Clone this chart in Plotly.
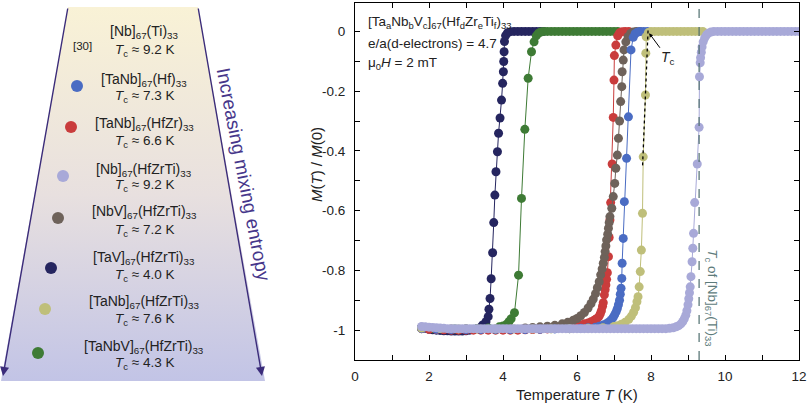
import plotly.graph_objects as go

W, H = 807, 405

# ---------------- data (T in K, M(T)/M(0)) ----------------
TaV_HfZrTi = [(1.8,-0.99),(1.9,-0.994),(2.0,-0.997),(2.1,-0.999),(2.2,-1.0),(2.3,-1.001),(2.4,-1.002),(2.5,-1.002),
    (2.6,-1.003),(2.7,-1.003),(2.8,-1.003),(2.9,-1.003),(3.0,-1.002),(3.1,-1.0),(3.2,-0.998),(3.3,-0.995),(3.4,-0.99),
    (3.45,-0.983),(3.54,-0.972),(3.6,-0.955),(3.62,-0.93),(3.65,-0.894),(3.68,-0.828),(3.72,-0.741),(3.75,-0.64),
    (3.78,-0.548),(3.81,-0.47),(3.85,-0.403),(3.88,-0.341),(3.92,-0.29),(3.96,-0.23),(3.99,-0.174),(4.01,-0.135),
    (4.02,-0.101),(4.03,-0.068),(4.04,-0.034),(4.07,-0.014),(4.12,-0.005),(4.2,-0.001),(4.3,0),(4.4,0),(4.5,0),
    (4.6,0),(4.7,0),(4.8,0),(4.9,0),(5.0,0),(5.1,0)]

TaNbV_HfZrTi = [(1.8,-0.993),(2.1,-0.995),(2.4,-0.996),(2.7,-0.996),(3.0,-0.996),(3.3,-0.995),(3.6,-0.993),
    (3.9,-0.989),(4.0,-0.986),(4.1,-0.98),(4.16,-0.972),(4.22,-0.962),(4.31,-0.942),(4.42,-0.816),(4.5,-0.559),
    (4.59,-0.328),(4.68,-0.157),(4.77,-0.068),(4.84,-0.035),(4.9,-0.015),(4.96,-0.006),(5.02,-0.002),
    (5.1,0),(5.2,0),(5.3,0),(5.4,0),(5.5,0),(5.6,0),(5.7,0),(5.8,0),(5.9,0),(6.0,0),(6.1,0),(6.2,0),(6.3,0),
    (6.4,0),(6.5,0),(6.6,0),(6.7,0),(6.8,0),(6.9,0),(7.0,0),(7.1,0)]

TaNb_HfZr = [(1.8,-0.995),(2.0,-0.997),(2.2,-0.998),(2.4,-0.999),(2.6,-1.0),(2.8,-1.0),(3.0,-1.0),(3.2,-1.0),
    (3.4,-1.0),(3.6,-1.0),(3.8,-1.0),(4.0,-1.0),(4.2,-1.0),(4.4,-1.0),(4.6,-0.999),(4.8,-0.998),(5.0,-0.997),
    (5.2,-0.996),(5.4,-0.994),(5.6,-0.992),(5.8,-0.989),(6.0,-0.985),(6.1,-0.982),(6.2,-0.979),(6.3,-0.976),
    (6.38,-0.972),(6.45,-0.968),(6.5,-0.964),(6.55,-0.96),(6.6,-0.953),(6.63,-0.945),(6.66,-0.935),(6.69,-0.92),
    (6.71,-0.908),(6.74,-0.882),(6.76,-0.865),(6.78,-0.849),(6.8,-0.83),(6.82,-0.808),(6.85,-0.754),(6.87,-0.69),
    (6.89,-0.631),(6.91,-0.573),(6.95,-0.444),(6.98,-0.288),(7.0,-0.163),(7.01,-0.081),(7.05,-0.046),(7.1,-0.015),
    (7.15,-0.005),(7.22,-0.001),(7.3,0),(7.4,0)]

NbV_HfZrTi = [(1.8,-0.993),(2.2,-0.995),(2.6,-0.996),(3.0,-0.996),(3.4,-0.996),(3.8,-0.996),(4.2,-0.995),
    (4.6,-0.993),(4.8,-0.991),(5.0,-0.989),(5.2,-0.987),(5.4,-0.984),(5.6,-0.979),(5.75,-0.974),(5.9,-0.967),
    (6.0,-0.961),(6.1,-0.952),(6.2,-0.941),(6.3,-0.926),(6.38,-0.911),(6.44,-0.896),(6.5,-0.878),(6.55,-0.858),
    (6.6,-0.838),(6.64,-0.815),(6.68,-0.795),(6.71,-0.776),(6.74,-0.757),(6.76,-0.737),(6.78,-0.718),(6.8,-0.698),
    (6.83,-0.679),(6.85,-0.659),(6.87,-0.64),(6.89,-0.62),(6.94,-0.592),(6.98,-0.553),(7.02,-0.509),(7.05,-0.458),
    (7.09,-0.414),(7.12,-0.358),(7.15,-0.3),(7.18,-0.235),(7.21,-0.185),(7.22,-0.135),(7.25,-0.096),(7.27,-0.062),
    (7.32,-0.035),(7.38,-0.018),(7.45,-0.007),(7.52,-0.002),(7.6,0),(7.7,0)]

TaNb_Hf = [(1.8,-0.995),(2.2,-0.997),(2.6,-0.998),(3.0,-0.998),(3.4,-0.998),(3.8,-0.998),(4.2,-0.998),
    (4.6,-0.998),(5.0,-0.997),(5.4,-0.996),(5.8,-0.995),(6.1,-0.994),(6.3,-0.992),(6.5,-0.99),(6.6,-0.987),
    (6.7,-0.983),(6.8,-0.978),(6.87,-0.972),(6.93,-0.965),(6.98,-0.957),(7.02,-0.948),(7.06,-0.938),(7.09,-0.928),
    (7.12,-0.915),(7.15,-0.9),(7.17,-0.88),(7.19,-0.86),(7.21,-0.827),(7.22,-0.776),(7.25,-0.693),(7.28,-0.57),
    (7.34,-0.425),(7.39,-0.286),(7.46,-0.062),(7.52,-0.02),(7.57,-0.008),(7.63,-0.003),(7.7,0),(7.8,0),(7.9,0)]

TaNb_HfZrTi = [(1.8,-0.993),(2.3,-0.995),(2.8,-0.996),(3.3,-0.996),(3.8,-0.996),(4.3,-0.996),(4.8,-0.996),
    (5.3,-0.996),(5.8,-0.995),(6.3,-0.994),(6.7,-0.992),(7.0,-0.988),(7.1,-0.985),(7.2,-0.98),(7.3,-0.974),
    (7.4,-0.964),(7.47,-0.953),(7.53,-0.94),(7.58,-0.925),(7.62,-0.905),(7.65,-0.888),(7.68,-0.855),(7.71,-0.804),
    (7.74,-0.732),(7.77,-0.609),(7.79,-0.42),(7.85,-0.213),(7.86,-0.073),(7.87,-0.018),(7.93,-0.004),
    (8.0,0),(8.1,0),(8.2,0),(8.3,0),(8.4,0),(8.5,0),(8.6,0),(8.7,0),(8.8,0),(8.9,0),(9.0,0),(9.1,0),(9.2,0),
    (9.3,0),(9.4,0)]

Nb_HfZrTi = [(1.8,-0.988),(1.9,-0.989),(2.0,-0.99),(2.1,-0.991),(2.2,-0.992),(2.3,-0.993),(2.4,-0.994),
    (2.5,-0.995),(2.6,-0.995),(2.7,-0.995),(2.8,-0.995),(2.9,-0.995),(3.0,-0.995),(3.1,-0.995),(3.2,-0.995),
    (3.3,-0.995),(3.4,-0.995),(3.5,-0.995),(3.6,-0.995),(3.7,-0.995),(3.8,-0.995),(3.9,-0.995),(4.0,-0.995),
    (4.1,-0.995),(4.2,-0.995),(4.3,-0.995),(4.4,-0.995),(4.5,-0.995),(4.6,-0.995),(4.7,-0.995),(4.8,-0.995),
    (4.9,-0.995),(5.0,-0.995),(5.1,-0.995),(5.2,-0.995),(5.3,-0.995),(5.4,-0.995),(5.5,-0.995),(5.6,-0.995),
    (5.7,-0.995),(5.8,-0.995),(5.9,-0.995),(6.0,-0.995),(6.1,-0.995),(6.2,-0.995),(6.3,-0.995),(6.4,-0.995),
    (6.5,-0.995),(6.6,-0.995),(6.7,-0.995),(6.8,-0.995),(6.9,-0.995),(7.0,-0.995),(7.1,-0.995),(7.2,-0.995),
    (7.3,-0.995),(7.4,-0.995),(7.5,-0.995),(7.6,-0.995),(7.7,-0.995),(7.8,-0.995),(7.9,-0.995),(8.0,-0.995),
    (8.1,-0.995),(8.2,-0.995),(8.3,-0.995),(8.4,-0.995),
    (8.5,-0.994),(8.6,-0.992),(8.68,-0.989),(8.75,-0.985),(8.81,-0.979),(8.86,-0.971),(8.9,-0.962),(8.94,-0.95),
    (8.97,-0.935),(9.0,-0.915),(9.02,-0.895),(9.04,-0.875),(9.06,-0.855),(9.08,-0.821),(9.11,-0.771),(9.13,-0.726),
    (9.15,-0.676),(9.18,-0.573),(9.25,-0.444),(9.3,-0.321),(9.31,-0.152),(9.33,-0.105),(9.34,-0.088),(9.36,-0.07),
    (9.38,-0.052),(9.41,-0.035),(9.45,-0.022),(9.5,-0.012),(9.55,-0.006),(9.62,-0.002),
    (9.7,0),(9.8,0),(9.9,0),(10.0,0),(10.1,0),(10.2,0),(10.3,0),(10.4,0),(10.5,0),(10.6,0),(10.7,0),(10.8,0),
    (10.9,0),(11.0,0),(11.1,0),(11.2,0),(11.3,0),(11.4,0),(11.5,0),(11.6,0),(11.7,0),(11.8,0),(11.9,0),(12.0,0)]

# drawing order (later on top) and colours
series_names = ["TaV", "TaNbV", "TaNb_HfZr", "NbV", "TaNb_Hf", "TaNb_HfZrTi", "Nb_HfZrTi"]
series_data = [TaV_HfZrTi, TaNbV_HfZrTi, TaNb_HfZr, NbV_HfZrTi, TaNb_Hf, TaNb_HfZrTi, Nb_HfZrTi]
series_colors = ["#25255f", "#3e7b35", "#c93c3c", "#6e625a", "#4a6cc3", "#bfbf7a", "#a8a9d8"]

# Tc guide line (tangent) and reference Tc of [Nb]67(Ti)33
tc_line_T = [7.92, 7.77]
tc_line_M = [0.003, -0.458]
tc_NbTi = 9.3

# legend panel
legend_formula = ["[Nb]<sub>67</sub>(Ti)<sub>33</sub>", "[TaNb]<sub>67</sub>(Hf)<sub>33</sub>",
                  "[TaNb]<sub>67</sub>(HfZr)<sub>33</sub>", "[Nb]<sub>67</sub>(HfZrTi)<sub>33</sub>",
                  "[NbV]<sub>67</sub>(HfZrTi)<sub>33</sub>", "[TaV]<sub>67</sub>(HfZrTi)<sub>33</sub>",
                  "[TaNb]<sub>67</sub>(HfZrTi)<sub>33</sub>", "[TaNbV]<sub>67</sub>(HfZrTi)<sub>33</sub>"]
legend_tc = [9.2, 7.3, 6.6, 9.2, 7.2, 4.0, 7.6, 4.3]
legend_colors = [None, "#4a6cc3", "#c93c3c", "#a8a9d8", "#6e625a", "#25255f", "#bfbf7a", "#3e7b35"]

x_ticks = [0, 2, 4, 6, 8, 10, 12]
y_ticks = [-1, -0.8, -0.6, -0.4, -0.2, 0]
y_ticktext = ["-1", "-0.8", "-0.6", "-0.4", "-0.2", "0"]

# ---------------- layout constants (pixels) ----------------
leg_line1_y = [31.7, 80, 124, 170, 212, 258, 302, 347]
leg_line2_y = [50, 96, 141, 185, 230, 275, 319, 363]
leg_mark_x = [None, 77, 71, 63, 58, 51, 45, 38]
leg_mark_y = [None, 86, 127, 176, 218, 268, 309, 353]
leg_text_x = 144

FONT = "Liberation Sans, Arial, sans-serif"
TXT = "#222222"

def px(x):
    return x / W

def py(y):
    return 1 - y / H

fig = go.Figure()

# left panel trapezoid
fig.add_trace(go.Scatter(x=[68, 198, 265, 1, 68], y=[7, 7, 381, 381, 7], mode="lines",
                         fill="toself", line=dict(width=0),
                         fillgradient=dict(type="vertical",
                                           colorscale=[[0, "#c2c4e6"], [0.5, "#e8e0df"], [1, "#f9f2d6"]]),
                         xaxis="x2", yaxis="y2", hoverinfo="skip"))

mx = [v for v in leg_mark_x if v is not None]
my = [v for v in leg_mark_y if v is not None]
mc = [c for c in legend_colors if c is not None]
fig.add_trace(go.Scatter(x=mx, y=my, mode="markers", marker=dict(size=12, color=mc),
                         xaxis="x2", yaxis="y2", hoverinfo="skip"))

# main data
for name, data, col in zip(series_names, series_data, series_colors):
    T = [p[0] for p in data]
    M = [p[1] for p in data]
    fig.add_trace(go.Scatter(x=T, y=M, mode="lines+markers", name=name,
                             line=dict(color=col, width=1),
                             marker=dict(size=9, color=col)))

fig.add_trace(go.Scatter(x=tc_line_T, y=tc_line_M, mode="lines",
                         line=dict(color="black", width=1.3, dash="dot"), hoverinfo="skip"))

fig.add_shape(type="line", x0=tc_NbTi, x1=tc_NbTi, y0=0, y1=1, xref="x", yref="y domain",
              line=dict(color="#4f6e6e", width=1.2, dash="dash"))

C = dict(xanchor="center", yanchor="middle")
ann = []
for i in range(8):
    ann.append(dict(x=leg_text_x, y=leg_line1_y[i], xref="x2", yref="y2", text=legend_formula[i],
                    showarrow=False, font=dict(size=14, color=TXT), **C))
    ann.append(dict(x=leg_text_x, y=leg_line2_y[i], xref="x2", yref="y2",
                    text="<i>T</i><sub>c</sub> ≈ %.1f K" % legend_tc[i],
                    showarrow=False, font=dict(size=13.5, color=TXT), **C))
ann.append(dict(x=82, y=46, xref="x2", yref="y2", text="[30]", showarrow=False,
                font=dict(size=11.5, color=TXT), **C))
# arrows along trapezoid sides
for (x0, y0, x1, y1) in [(68, 7, 3, 376), (198, 7, 262, 376)]:
    ann.append(dict(x=x1, y=y1, ax=x0, ay=y0, xref="x2", yref="y2", axref="x2", ayref="y2",
                    text="", showarrow=True, arrowhead=2, arrowsize=1.3, arrowwidth=1.4,
                    arrowcolor="#3b2c7a"))
ann.append(dict(x=244, y=174, xref="x2", yref="y2", text="Increasing mixing entropy",
                textangle=79, showarrow=False, font=dict(size=19, color="#46368a"), **C))

# main plot texts
ann.append(dict(x=px(366), y=py(22), xref="paper", yref="paper", xanchor="left", yanchor="middle",
                text="[Ta<sub>a</sub>Nb<sub>b</sub>V<sub>c</sub>]<sub>67</sub>(Hf<sub>d</sub>Zr<sub>e</sub>Ti<sub>f</sub>)<sub>33</sub>",
                showarrow=False, font=dict(size=13.5, color=TXT)))
ann.append(dict(x=px(366), y=py(43), xref="paper", yref="paper", xanchor="left", yanchor="middle",
                text="e/a(d-electrons) = 4.7", showarrow=False, font=dict(size=13.5, color=TXT)))
ann.append(dict(x=px(366), y=py(64), xref="paper", yref="paper", xanchor="left", yanchor="middle",
                text="μ<sub>0</sub><i>H</i> = 2 mT", showarrow=False, font=dict(size=13.5, color=TXT)))
ann.append(dict(x=7.95, y=-0.006, ax=8.45, ay=-0.09, xref="x", yref="y", axref="x", ayref="y",
                text="<i>T</i><sub>c</sub>", showarrow=True, arrowhead=2, arrowsize=0.8, arrowwidth=1,
                arrowcolor="black", font=dict(size=14, color=TXT)))
ann.append(dict(x=9.65, y=-0.89, xref="x", yref="y", textangle=90,
                text="<i>T</i><sub>c</sub> of [Nb]<sub>67</sub>(Ti)<sub>33</sub>", showarrow=False,
                font=dict(size=13.5, color="#5d7b7b"), **C))
ann.append(dict(x=px(577), y=py(394), xref="paper", yref="paper", text="Temperature <i>T</i> (K)",
                showarrow=False, font=dict(size=15, color=TXT), **C))
ann.append(dict(x=px(316), y=py(165), xref="paper", yref="paper", textangle=-90,
                text="<i>M</i>(<i>T</i>) / <i>M</i>(0)", showarrow=False, font=dict(size=15, color=TXT), **C))

axis_common = dict(ticks="inside", ticklen=5, tickwidth=1, tickcolor="black", showline=True,
                   linecolor="black", linewidth=1, mirror="ticks", showgrid=False, zeroline=False,
                   automargin=False, tickfont=dict(size=13.5, color=TXT, family=FONT))

fig.update_layout(
    template="none",
    width=W, height=H, margin=dict(l=0, r=0, t=0, b=0, pad=0, autoexpand=False),
    paper_bgcolor="white", plot_bgcolor="rgba(0,0,0,0)", showlegend=False,
    font=dict(family=FONT, color=TXT),
    xaxis=dict(domain=[px(355), px(799)], range=[0, 12], tickvals=x_ticks, anchor="y",
               ticklabelstandoff=4,
               minor=dict(dtick=1, tick0=0, ticks="inside", ticklen=5, tickcolor="black", showgrid=False),
               **axis_common),
    yaxis=dict(domain=[py(360), py(3)], range=[-1.1, 0.095], tickvals=y_ticks, ticktext=y_ticktext,
               anchor="x", ticklabelstandoff=6,
               minor=dict(dtick=0.1, tick0=0, ticks="inside", ticklen=5, tickcolor="black", showgrid=False),
               **axis_common),
    xaxis2=dict(domain=[0, px(300)], range=[0, 300], visible=False, anchor="y2", automargin=False),
    yaxis2=dict(domain=[0, 1], range=[H, 0], visible=False, anchor="x2", automargin=False),
    annotations=ann,
)

fig.write_html("out.html", config={"displayModeBar": False},
               post_script="document.body.style.margin='0px';document.body.style.padding='0px';")
